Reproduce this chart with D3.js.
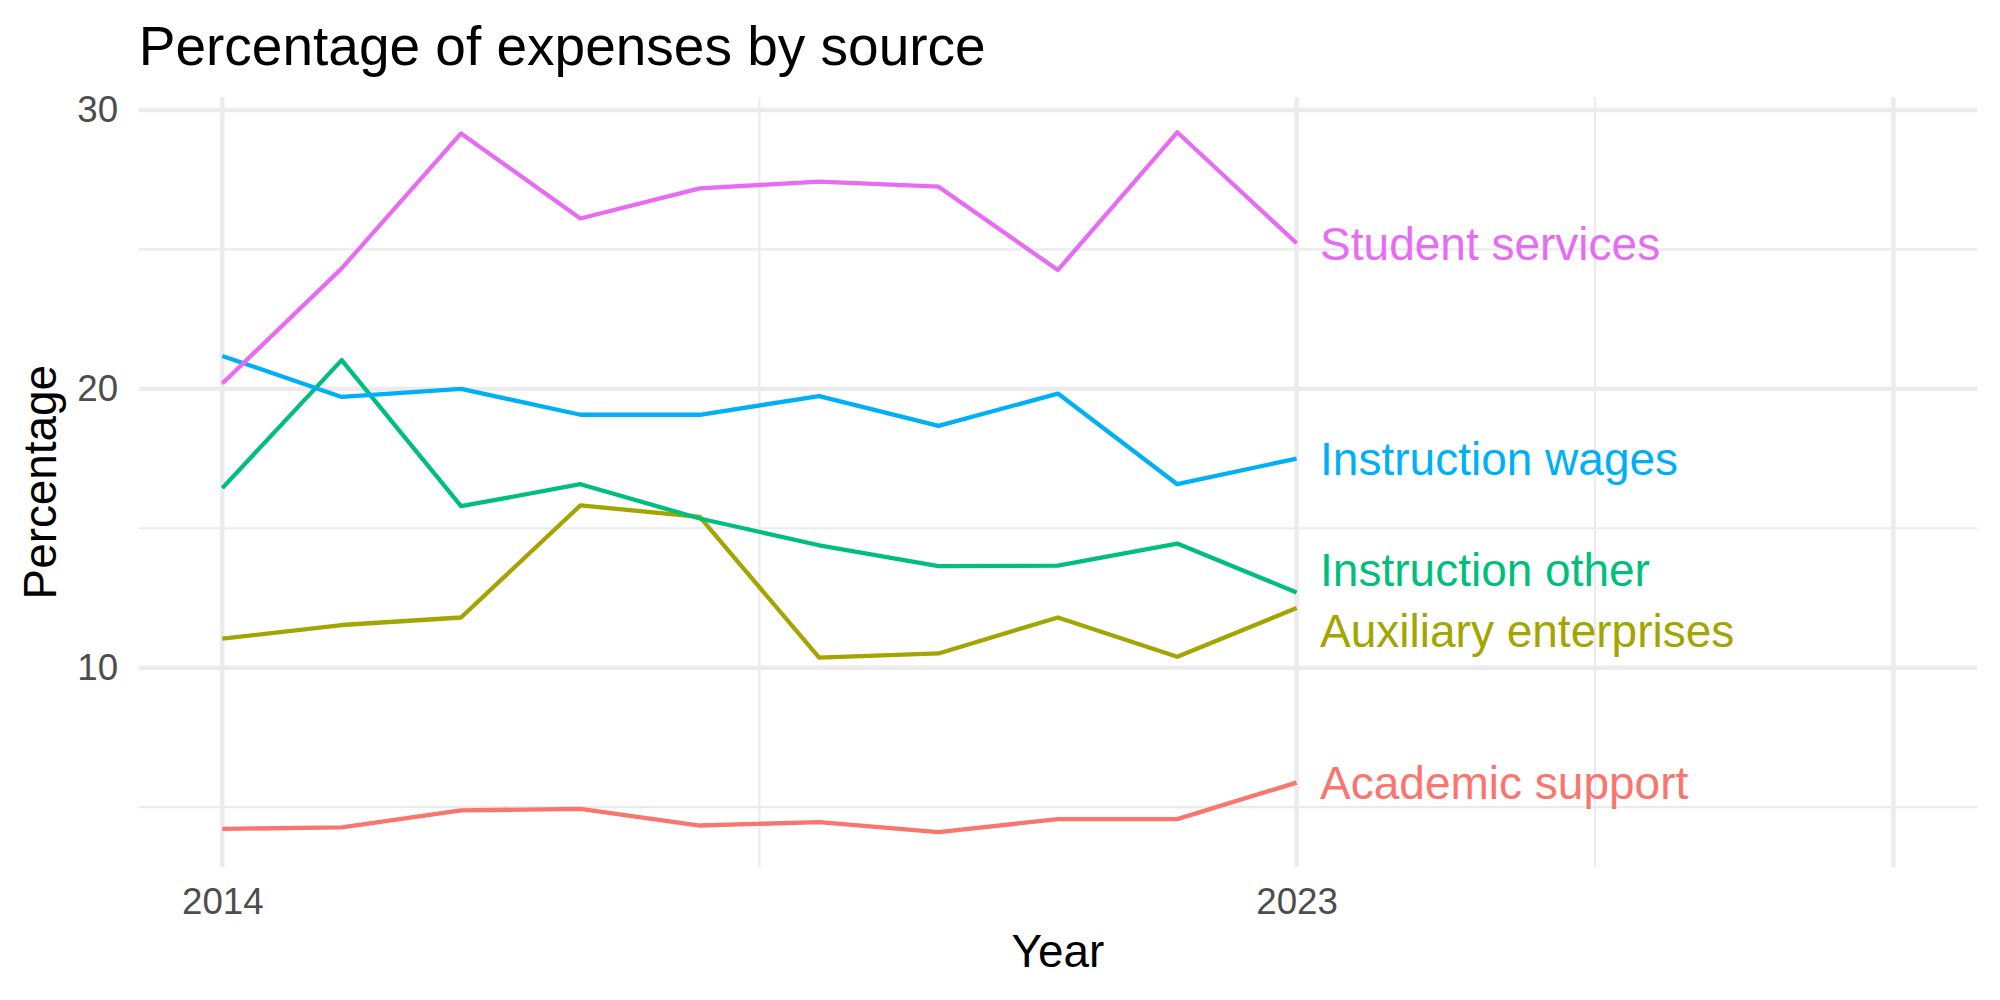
<!DOCTYPE html>
<html>
<head>
<meta charset="utf-8">
<script src="https://cdn.jsdelivr.net/npm/d3@7"></script>
<style>
  body { margin: 0; background: #fff; }
  text { font-family: 'Liberation Sans', Arial, Helvetica, sans-serif; }
</style>
</head>
<body>
<div id="chart"></div>
<script>
// data
const years = [2014, 2015, 2016, 2017, 2018, 2019, 2020, 2021, 2022, 2023];
const sources = ['Academic support', 'Auxiliary enterprises', 'Instruction other', 'Instruction wages', 'Student services'];

const academicSupport = [4.22, 4.27, 4.88, 4.94, 4.34, 4.46, 4.10, 4.57, 4.57, 5.88];
const auxiliaryEnterprises = [11.04, 11.53, 11.80, 15.82, 15.41, 10.36, 10.51, 11.80, 10.39, 12.14];
const instructionOther = [16.44, 21.03, 15.79, 16.58, 15.35, 14.39, 13.64, 13.66, 14.45, 12.70];
const instructionWages = [21.18, 19.71, 20.00, 19.07, 19.07, 19.74, 18.67, 19.83, 16.58, 17.50];
const studentServices = [20.19, 24.32, 29.16, 26.11, 27.19, 27.43, 27.25, 24.26, 29.20, 25.22];

const xBreaks = [2014, 2023, 2028];
const xLabels = ['2014', '2023', ''];
const xMinor = [2018.5, 2025.5];
const xLimits = [2014, 2028];
const yBreaks = [10, 20, 30];
const yMinor = [5, 15, 25];

const seriesValues = [academicSupport, auxiliaryEnterprises, instructionOther, instructionWages, studentServices];
const series = sources.map((name, i) => ({
  name: name,
  values: years.map((y, j) => ({ year: y, value: seriesValues[i][j] }))
}));

let width = 2000,
  height = 1000;

// ggplot-ish layout (300 dpi, base size 11pt)
const panel = { left: 138.75, right: 1977 };

// hue palette like ggplot's default
const color = d3.scaleOrdinal()
  .domain(sources)
  .range(['#F8766D', '#A3A500', '#00BF7D', '#00B0F6', '#E76BF3']);

// 5% expansion on both axes
const xSpan = xLimits[1] - xLimits[0];
const x = d3.scaleLinear()
  .domain([xLimits[0] - xSpan * 0.05, xLimits[1] + xSpan * 0.05])
  .range([panel.left, panel.right]);

const allValues = seriesValues.flat();
const yExt = d3.extent(allValues);
const ySpan = yExt[1] - yExt[0];
const y = d3.scaleLinear()
  .domain([yExt[0] - ySpan * 0.05, yExt[1] + ySpan * 0.05])
  .range([867.2, 97.3]);

const svg = d3.select('#chart').append('svg')
  .attr('width', width)
  .attr('height', height)
  .style('background', '#fff');

const grid = svg.append('g').attr('class', 'grid');

// minor grid
grid.selectAll('line.ymin')
  .data(yMinor)
  .enter().append('line')
  .attr('class', 'ymin')
  .attr('x1', x.range()[0]).attr('x2', x.range()[1])
  .attr('y1', d => y(d)).attr('y2', d => y(d))
  .attr('stroke', '#EBEBEB')
  .attr('stroke-width', 2.2);

grid.selectAll('line.xmin')
  .data(xMinor)
  .enter().append('line')
  .attr('class', 'xmin')
  .attr('y1', y.range()[0]).attr('y2', y.range()[1])
  .attr('x1', d => x(d)).attr('x2', d => x(d))
  .attr('stroke', '#EBEBEB')
  .attr('stroke-width', 2.2);

// major grid
grid.selectAll('line.ymaj')
  .data(yBreaks)
  .enter().append('line')
  .attr('class', 'ymaj')
  .attr('x1', x.range()[0]).attr('x2', x.range()[1])
  .attr('y1', d => y(d)).attr('y2', d => y(d))
  .attr('stroke', '#EBEBEB')
  .attr('stroke-width', 4.4);

grid.selectAll('line.xmaj')
  .data(xBreaks)
  .enter().append('line')
  .attr('class', 'xmaj')
  .attr('y1', y.range()[0]).attr('y2', y.range()[1])
  .attr('x1', d => x(d)).attr('x2', d => x(d))
  .attr('stroke', '#EBEBEB')
  .attr('stroke-width', 4.4);

// axes (no ticks or domain line, just labels)
const xAxis = svg.append('g')
  .attr('transform', `translate(0, ${y.range()[0] + 20.7})`)
  .call(d3.axisBottom(x).tickValues(xBreaks).tickSize(0).tickPadding(0)
    .tickFormat((d, i) => xLabels[i]));
xAxis.select('.domain').remove();
xAxis.selectAll('text')
  .attr('dy', '0.71em')
  .attr('y', 0)
  .style('font-family', "'Liberation Sans', Arial, sans-serif")
  .style('font-size', '36.7px')
  .attr('fill', '#4D4D4D');

const yAxis = svg.append('g')
  .attr('transform', `translate(${x.range()[0] - 20.7}, 0)`)
  .call(d3.axisLeft(y).tickValues(yBreaks).tickSize(0).tickPadding(0));
yAxis.select('.domain').remove();
yAxis.selectAll('text')
  .attr('x', 0)
  .style('font-family', "'Liberation Sans', Arial, sans-serif")
  .style('font-size', '36.7px')
  .attr('fill', '#4D4D4D');

// lines
const line = d3.line()
  .x(d => x(d.year))
  .y(d => y(d.value));

svg.append('g')
  .selectAll('path')
  .data(series)
  .enter().append('path')
  .attr('d', d => line(d.values))
  .attr('fill', 'none')
  .attr('stroke', d => color(d.name))
  .attr('stroke-width', 4.3)
  .attr('stroke-linejoin', 'round');

// end labels, pushed apart when they overlap (a tiny repel)
const labels = series.map(s => {
  const last = s.values[s.values.length - 1];
  return { name: s.name, x: x(last.year) + 23.5, y: y(last.value) };
}).sort((a, b) => a.y - b.y);

const minGap = 61;
for (let it = 0; it < 50; it++) {
  for (let i = 1; i < labels.length; i++) {
    const gap = labels[i].y - labels[i - 1].y;
    if (gap < minGap) {
      const push = (minGap - gap) / 2;
      labels[i - 1].y -= push;
      labels[i].y += push;
    }
  }
}

svg.append('g')
  .selectAll('text')
  .data(labels)
  .enter().append('text')
  .attr('x', d => d.x)
  .attr('y', d => d.y)
  .attr('dy', '0.36em')
  .attr('fill', d => color(d.name))
  .style('font-size', '46px')
  .text(d => d.name);

// titles
svg.append('text')
  .attr('x', panel.left)
  .attr('y', 65)
  .style('font-size', '55px')
  .attr('fill', '#000')
  .text('Percentage of expenses by source');

svg.append('text')
  .attr('x', (x.range()[0] + x.range()[1]) / 2)
  .attr('y', 967)
  .attr('text-anchor', 'middle')
  .style('font-size', '45.8px')
  .attr('fill', '#000')
  .text('Year');

svg.append('text')
  .attr('transform', `translate(56, ${(y.range()[0] + y.range()[1]) / 2}) rotate(-90)`)
  .attr('text-anchor', 'middle')
  .style('font-size', '45.8px')
  .attr('fill', '#000')
  .text('Percentage');
</script>
</body>
</html>
